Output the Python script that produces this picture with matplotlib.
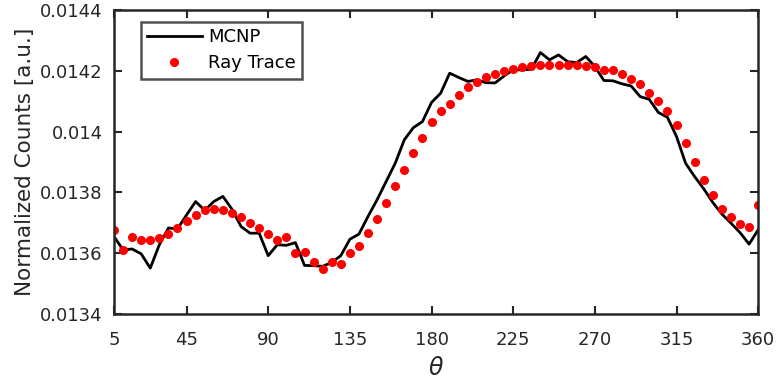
import numpy as np
import matplotlib
matplotlib.use("Agg")
import matplotlib.pyplot as plt

plt.rcParams['font.family'] = ['DejaVu Sans']

theta = np.arange(5, 361, 5)

mcnp = [0.013655, 0.013611, 0.013614, 0.013598, 0.013551, 0.013628, 0.013683, 0.013680,
        0.013726, 0.013770, 0.013741, 0.013770, 0.013787, 0.013745, 0.013688, 0.013666,
        0.013666, 0.013592, 0.013628, 0.013626, 0.013635, 0.013560, 0.013559, 0.013557,
        0.013570, 0.013592, 0.013646, 0.013663, 0.013721, 0.013776, 0.013836, 0.013896,
        0.013973, 0.014013, 0.014033, 0.014096, 0.014126, 0.014192, 0.014178, 0.014165,
        0.014170, 0.014161, 0.014160, 0.014183, 0.014203, 0.014203, 0.014205, 0.014260,
        0.014236, 0.014252, 0.014230, 0.014227, 0.014247, 0.014214, 0.014168, 0.014167,
        0.014157, 0.014150, 0.014115, 0.014106, 0.014063, 0.014047, 0.013984, 0.013896,
        0.013852, 0.013812, 0.013767, 0.013729, 0.013699, 0.013668, 0.013630, 0.013677]

ray = [0.013677, 0.013611, 0.013652, 0.013644, 0.013642, 0.013649, 0.013664, 0.013684,
       0.013707, 0.013727, 0.013743, 0.013747, 0.013741, 0.013731, 0.013718, 0.013701,
       0.013683, 0.013663, 0.013642, 0.013655, 0.013600, 0.013605, 0.013571, 0.013548,
       0.013570, 0.013564, 0.013600, 0.013625, 0.013666, 0.013712, 0.013764, 0.013820,
       0.013874, 0.013930, 0.013979, 0.014032, 0.014068, 0.014091, 0.014121, 0.014146,
       0.014162, 0.014178, 0.014191, 0.014200, 0.014207, 0.014212, 0.014216, 0.014220,
       0.014220, 0.014220, 0.014220, 0.014220, 0.014217, 0.014212, 0.014203, 0.014203,
       0.014190, 0.014174, 0.014158, 0.014128, 0.014102, 0.014068, 0.014021, 0.013964,
       0.013901, 0.013841, 0.013790, 0.013747, 0.013718, 0.013697, 0.013686, 0.013759]

xticks = [5, 45, 90, 135, 180, 225, 270, 315, 360]
yticks = [0.0134, 0.0136, 0.0138, 0.014, 0.0142, 0.0144]
ytick_labels = ['0.0134', '0.0136', '0.0138', '0.014', '0.0142', '0.0144']

fig = plt.figure(figsize=(7.78, 3.83), dpi=100)
ax = fig.add_axes([0.1465, 0.18, 0.828, 0.794])

ax.plot(theta, mcnp, color='black', lw=2, label='MCNP')
ax.plot(theta, ray, ls='none', marker='o', ms=5.5, color='red', mec='red', label='Ray Trace')

ax.set_xlim(5, 360)
ax.set_ylim(0.0134, 0.0144)
ax.set_xticks(xticks)
ax.set_xticklabels([str(t) for t in xticks])
ax.set_yticks(yticks)
ax.set_yticklabels(ytick_labels)

ax.tick_params(direction='in', length=6, width=1.5, top=True, right=True,
               labelsize=13, colors='#262626')
ax.tick_params(axis='x', pad=12)
ax.tick_params(axis='y', pad=8)
for sp in ax.spines.values():
    sp.set_linewidth(1.8)
    sp.set_color('#262626')

ax.set_xlabel(r'$\theta$', fontsize=17, color='#262626', labelpad=5)
ax.set_ylabel('Normalized Counts [a.u.]', fontsize=15.5, color='#262626', labelpad=4)

leg = ax.legend(loc='upper left', bbox_to_anchor=(0.028, 0.99), fontsize=13,
                frameon=True, fancybox=False, edgecolor='#262626',
                handlelength=3.0, borderpad=0.35, labelspacing=0.45, handletextpad=0.35)
leg.get_frame().set_linewidth(1.8)

fig.savefig('out.png', dpi=100)
